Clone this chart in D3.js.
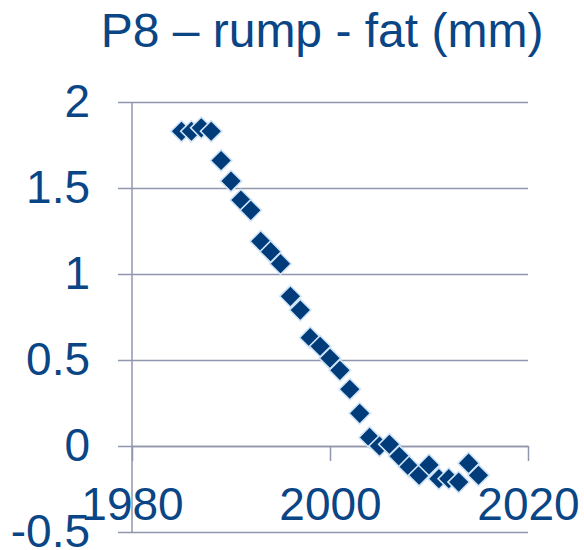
<!DOCTYPE html>
<html>
<head>
<meta charset="utf-8">
<script src="https://cdn.jsdelivr.net/npm/d3@7"></script>
<style>
  html, body { margin: 0; padding: 0; background: #ffffff; }
  svg { display: block; font-family: "Liberation Sans", Arial, sans-serif; }
</style>
</head>
<body>
<svg id="chart" width="584" height="550"></svg>
<script>
// P8 rump fat (mm), yearly values
const years = [1985, 1986, 1987, 1988, 1989, 1990, 1991, 1992, 1993, 1994,
               1995, 1996, 1997, 1998, 1999, 2000, 2001, 2002, 2003, 2004,
               2005, 2006, 2007, 2008, 2009, 2010, 2011, 2012, 2013, 2014, 2015];
const fatValues = [1.83, 1.83, 1.85, 1.83, 1.66, 1.54, 1.43, 1.37, 1.19, 1.13,
                   1.06, 0.87, 0.79, 0.63, 0.58, 0.51, 0.44, 0.33, 0.19, 0.05,
                   0.00, 0.01, -0.06, -0.12, -0.17, -0.11, -0.19, -0.19, -0.21, -0.10, -0.17];
const xTicks = [1980, 2000, 2020];
const yTicks = [-0.5, 0, 0.5, 1, 1.5, 2];
const titleText = "P8 \u2013 rump - fat (mm)";

const textColor = "#0a4585";
const gridColor = "#9097ad";
const markerFill = "#003b7a";
const markerEdge = "#cfe4f6";

const svg = d3.select("#chart");

const x = d3.scaleLinear().domain([1980, 2020]).range([132, 528]);
const y = d3.scaleLinear().domain([-0.5, 2]).range([532, 102]);

// Title
svg.append("text")
  .attr("x", 322).attr("y", 47)
  .attr("text-anchor", "middle")
  .attr("font-size", 48)
  .attr("fill", textColor)
  .text(titleText);

// Horizontal gridlines with value labels on the left
const yAxis = d3.axisLeft(y)
  .tickValues(yTicks)
  .tickFormat(d => String(d))
  .tickSize(-(528 - 118))
  .tickPadding(0);

const gy = svg.append("g")
  .attr("transform", "translate(118,0)")
  .call(yAxis);
gy.select(".domain").remove();
gy.selectAll(".tick line").attr("stroke", gridColor).attr("stroke-width", 1.5);
gy.selectAll(".tick text")
  .attr("x", -28)
  .attr("font-size", 46)
  .attr("fill", textColor)
  .attr("font-family", "Liberation Sans, Arial, sans-serif");

// Vertical axis line at 1980
svg.append("line")
  .attr("x1", x(1980)).attr("x2", x(1980))
  .attr("y1", y(2)).attr("y2", y(-0.5))
  .attr("stroke", gridColor).attr("stroke-width", 1.5);

// Horizontal axis crossing at zero
const xAxis = d3.axisBottom(x)
  .tickValues(xTicks)
  .tickFormat(d3.format("d"))
  .tickSizeInner(15)
  .tickSizeOuter(0)
  .tickPadding(26);

const gx = svg.append("g")
  .attr("transform", `translate(0,${y(0)})`)
  .call(xAxis);
gx.select(".domain").attr("stroke", gridColor).attr("stroke-width", 1.5);
gx.selectAll(".tick line").attr("stroke", gridColor).attr("stroke-width", 1.5);
gx.selectAll(".tick text")
  .attr("font-size", 46)
  .attr("fill", textColor)
  .attr("font-family", "Liberation Sans, Arial, sans-serif");

// Diamond markers
const diamond = d3.symbol().type(d3.symbolSquare).size(230);
svg.append("g")
  .selectAll("path")
  .data(years.map((yr, i) => ({ yr, v: fatValues[i] })))
  .join("path")
  .attr("d", diamond)
  .attr("transform", d => `translate(${x(d.yr)},${y(d.v)}) rotate(45)`)
  .attr("fill", markerFill)
  .attr("stroke", markerEdge)
  .attr("stroke-width", 1.6);
</script>
</body>
</html>
